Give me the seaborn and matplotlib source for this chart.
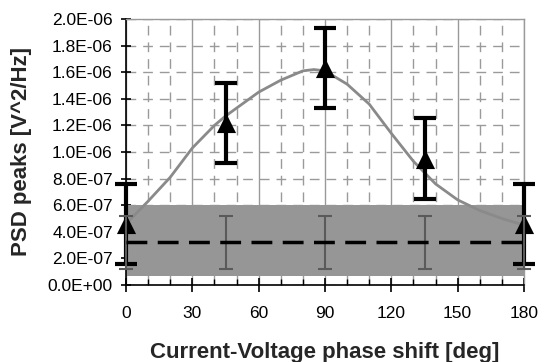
import matplotlib
matplotlib.use("Agg")
import matplotlib.pyplot as plt
import matplotlib.ticker as mticker
import seaborn as sns
import numpy as np
import pandas as pd

# ---- data ----
phase = [0, 45, 90, 135, 180]
psd_peak = [4.6e-07, 1.22e-06, 1.63e-06, 9.5e-07, 4.6e-07]
psd_err = [3.0e-07, 3.0e-07, 3.0e-07, 3.05e-07, 3.0e-07]

noise_mean = [3.2e-07, 3.2e-07, 3.2e-07, 3.2e-07, 3.2e-07]
noise_err = [2.0e-07, 2.0e-07, 2.0e-07, 2.0e-07, 2.0e-07]
band_low = 0.7e-07
band_high = 6.0e-07

curve_phase = [0, 10, 20, 30, 40, 45, 50, 60, 70, 80, 85, 90, 100, 110, 120,
               130, 140, 150, 160, 170, 180]
curve_psd = [4.6e-07, 6.3e-07, 8.1e-07, 1.03e-06, 1.20e-06, 1.27e-06, 1.33e-06,
             1.45e-06, 1.54e-06, 1.61e-06, 1.62e-06, 1.61e-06, 1.51e-06, 1.36e-06,
             1.14e-06, 9.3e-07, 7.6e-07, 6.4e-07, 5.6e-07, 5.0e-07, 4.5e-07]

x_ticks = [0, 30, 60, 90, 120, 150, 180]
xlabel = "Current-Voltage phase shift [deg]"
ylabel = "PSD peaks [V^2/Hz]"

# ---- style ----
sns.set_theme(style="white")
plt.rcParams['font.family'] = ['Liberation Sans', 'DejaVu Sans']

fig = plt.figure(figsize=(5.44, 3.62), dpi=100)
ax = fig.add_axes([126/544, 1 - 285/362, (524-126)/544, (285-19)/362])

curve_df = pd.DataFrame({"phase": curve_phase, "psd": curve_psd})
peak_df = pd.DataFrame({"phase": phase, "psd": psd_peak})

# grid
ax.set_xlim(0, 180)
ax.set_ylim(0, 2.0e-06)
ax.xaxis.set_major_locator(mticker.FixedLocator(x_ticks))
ax.xaxis.set_minor_locator(mticker.MultipleLocator(10))
ax.yaxis.set_major_locator(mticker.MultipleLocator(2e-07))
ax.grid(True, which="major", axis="x", color="#9a9a9a", lw=1.0, ls="-", zorder=0)
ax.grid(True, which="minor", axis="x", color="#9a9a9a", lw=1.0, ls=(0, (7, 5)), zorder=0)
ax.grid(True, which="major", axis="y", color="#9a9a9a", lw=1.0, ls=(0, (7, 5)), zorder=0)
ax.set_axisbelow(True)

# gray noise band
ax.axhspan(band_low, band_high, color="#969696", lw=0, zorder=1)

# model curve
sns.lineplot(data=curve_df, x="phase", y="psd", color="#8a8a8a", lw=2.0,
             ax=ax, zorder=2, legend=False)

# black error bars with triangles
ax.errorbar(phase, psd_peak, yerr=psd_err, fmt="none", ecolor="black",
            elinewidth=3, capsize=8, capthick=3, zorder=3, clip_on=False)
sns.scatterplot(data=peak_df, x="phase", y="psd", marker="^", s=190,
                color="black", edgecolor="black", linewidth=0, ax=ax,
                zorder=3.5, clip_on=False, legend=False)

# noise mean + error bars
ax.errorbar(phase, noise_mean, yerr=noise_err, fmt="none", ecolor="#5a5a5a",
            elinewidth=1.5, capsize=5, capthick=1.5, zorder=5, clip_on=False,
            ls=":")
ax.axhline(noise_mean[0], color="black", lw=2.5, ls=(0, (6, 3)), zorder=6)

# spines
for side in ["top", "right"]:
    ax.spines[side].set_color("#9a9a9a")
    ax.spines[side].set_linewidth(1.0)
for side in ["left", "bottom"]:
    ax.spines[side].set_color("black")
    ax.spines[side].set_linewidth(1.2)

ax.yaxis.set_major_formatter(mticker.FuncFormatter(lambda v, p: f"{v:.1E}"))
ax.tick_params(axis="y", which="major", direction="inout", length=7, width=1.2,
               colors="black", labelsize=12.5, pad=6, left=True)
ax.tick_params(axis="x", which="major", direction="inout", length=10, width=1.2,
               colors="black", labelsize=12.5, pad=10, bottom=True)
ax.tick_params(axis="x", which="minor", direction="in", length=4, width=1.0,
               colors="black", bottom=True)

ax.set_xlabel(xlabel, fontsize=16, fontweight="bold", labelpad=15)
ax.set_ylabel(ylabel, fontsize=16, fontweight="bold", labelpad=11)

fig.savefig("out.png", dpi=100)
